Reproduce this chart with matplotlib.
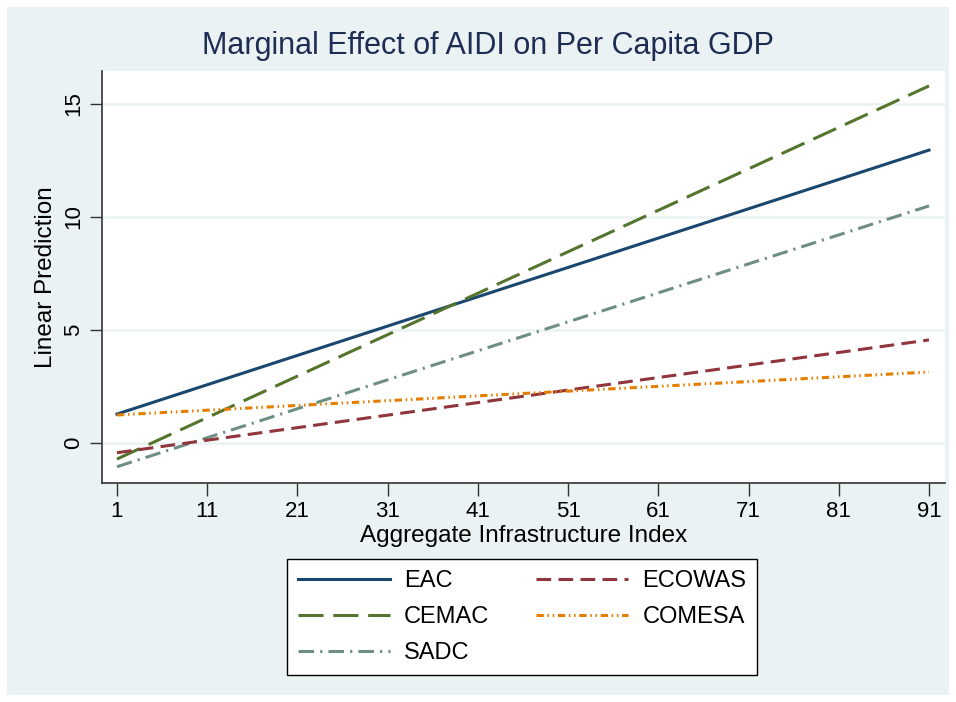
import numpy as np
import matplotlib
matplotlib.use("Agg")
import matplotlib.pyplot as plt
from matplotlib.patches import Rectangle

plt.rcParams['font.family'] = ['Liberation Sans', 'DejaVu Sans']

# data (linear predictions at the two ends of the range)
x_ends = [1, 91]
series = ["EAC", "ECOWAS", "CEMAC", "COMESA", "SADC"]
eac = [1.28, 12.96]
ecowas = [-0.43, 4.56]
cemac = [-0.71, 15.8]
comesa = [1.24, 3.14]
sadc = [-1.05, 10.49]
x_ticks = list(range(1, 92, 10))
y_ticks = [0, 5, 10, 15]

colors = {"EAC": "#1a476f", "ECOWAS": "#90353b", "CEMAC": "#55752f",
          "COMESA": "#e37e00", "SADC": "#6e8e84"}
dashes = {"EAC": (None, None), "ECOWAS": (4.8, 2.4), "CEMAC": (8.2, 3.2),
          "COMESA": (2.4, 1.2, 0.5, 1.2, 0.5, 1.2), "SADC": (5.1, 2.0, 0.7, 2.0)}
values = {"EAC": eac, "ECOWAS": ecowas, "CEMAC": cemac, "COMESA": comesa, "SADC": sadc}

fig = plt.figure(figsize=(9.56, 7.02), dpi=100, facecolor="white")
fig.patches.append(Rectangle((7/956, 7/702), 942/956, 688/702, transform=fig.transFigure,
                             facecolor="#eaf2f3", edgecolor="none", zorder=-10))

ax = fig.add_axes([102/956, 1-483/702, 843/956, 412/702])
ax.set_zorder(2)
ax.set_facecolor("white")
for name in ["EAC", "CEMAC", "SADC", "ECOWAS", "COMESA"]:
    ln, = ax.plot(x_ends, values[name], color=colors[name], lw=2.2, label=name)
    if name != "EAC":
        ln.set_dashes(dashes[name])

ax.set_xlim(-0.66, 92.77)
ax.set_ylim(-1.77, 16.46)
ax.set_xticks(x_ticks)
ax.set_yticks(y_ticks)
ax.set_yticklabels([str(v) for v in y_ticks], rotation=90, va="center")
ax.tick_params(axis="both", labelsize=16, length=9, width=1, color="#333333",
               direction="out", pad=4)
ax.grid(axis="y", color="#eaf2f3", lw=1.8)
ax.set_axisbelow(True)
for s in ["top", "right"]:
    ax.spines[s].set_visible(False)
for s in ["left", "bottom"]:
    ax.spines[s].set_color("#333333")
    ax.spines[s].set_linewidth(1.2)

ax.set_xlabel("Aggregate Infrastructure Index", fontsize=17.5, labelpad=2)
ax.set_ylabel("Linear Prediction", fontsize=17.5, labelpad=4)
fig.text(488/956, 1-46/702, "Marginal Effect of AIDI on Per Capita GDP", fontsize=22,
         color="#1e2d53", ha="center", va="center")

handles, labels = ax.get_legend_handles_labels()
order = [labels.index(n) for n in ["EAC", "CEMAC", "SADC", "ECOWAS", "COMESA"]]
leg = fig.legend([handles[i] for i in order], [labels[i] for i in order], ncol=2,
                 loc="center", bbox_to_anchor=(522/956, 1-617/702), fontsize=17,
                 frameon=True, fancybox=False, edgecolor="black", framealpha=1,
                 handlelength=3.9, handletextpad=0.6, columnspacing=2.0,
                 borderpad=0.45, labelspacing=0.6)
leg.get_frame().set_linewidth(1.0)

fig.savefig("out.png", dpi=100, facecolor="white")
